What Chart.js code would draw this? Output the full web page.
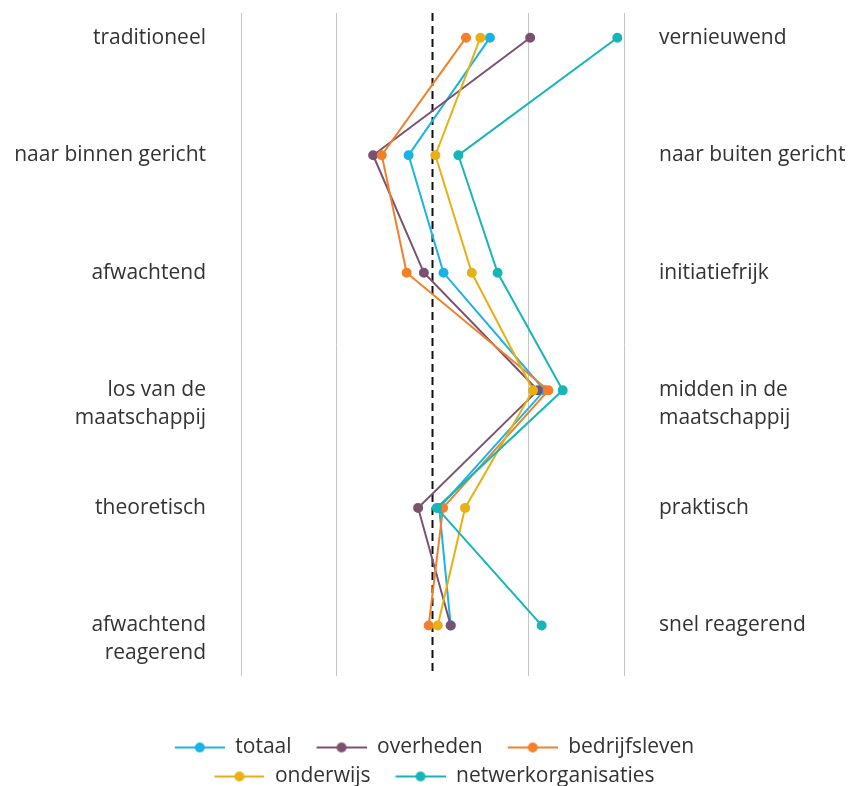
<!DOCTYPE html>
<html>
<head>
<meta charset="utf-8">
<script src="https://cdn.jsdelivr.net/npm/chart.js@4"></script>
<style>
  body { margin: 0; background: #fff; }
  #wrap { width: 852px; height: 786px; position: relative; }
</style>
</head>
<body>
<div id="wrap"><canvas id="profielChart"></canvas></div>
<script>
// labels links en rechts per rij
const leftLabels = ['traditioneel', 'naar binnen gericht', 'afwachtend', ['los van de', 'maatschappij'], 'theoretisch', ['afwachtend', 'reagerend']];
const rightLabels = ['vernieuwend', 'naar buiten gericht', 'initiatiefrijk', ['midden in de', 'maatschappij'], 'praktisch', 'snel reagerend'];
const rows = [0, 1, 2, 3, 4, 5];

// scores (-2 .. 2)
const totaal = [0.60, -0.25, 0.115, 1.17, 0.07, 0.19];
const overheden = [1.02, -0.62, -0.09, 1.10, -0.15, 0.19];
const bedrijfsleven = [0.35, -0.53, -0.27, 1.21, 0.11, -0.04];
const onderwijs = [0.50, 0.03, 0.41, 1.05, 0.34, 0.055];
const netwerkorganisaties = [1.93, 0.27, 0.68, 1.36, 0.045, 1.14];

const xTicks = [-2, -1, 0, 1, 2];

const FONT = '"Open Sans", sans-serif';
const TEXT_COLOR = '#333333';

function toPoints(values) {
    return values.map(function(v, i) { return { x: v, y: rows[i] }; });
}

// legenda-icoon: lijntje met bolletje
function legendIcon(color) {
    const c = document.createElement('canvas');
    c.width = 67;
    c.height = 12;
    const g = c.getContext('2d');
    g.strokeStyle = color;
    g.lineWidth = 2;
    g.beginPath();
    g.moveTo(17, 6);
    g.lineTo(67, 6);
    g.stroke();
    g.fillStyle = color;
    g.beginPath();
    g.arc(42, 6, 5, 0, Math.PI * 2);
    g.fill();
    return c;
}

function makeDataset(label, values, color, order) {
    return {
        label: label,
        data: toPoints(values),
        borderColor: color,
        backgroundColor: color,
        borderWidth: 2,
        pointRadius: 4,
        pointHoverRadius: 5,
        pointStyle: 'circle',
        showLine: true,
        order: order
    };
}

const labelPlugin = {
    id: 'sideLabels',
    afterInit: function(chart) {
        // legenda iets lager zetten
        const legend = chart.legend;
        if (legend) {
            const origFit = legend.fit;
            legend.fit = function() {
                origFit.call(this);
                this.height -= 11;
            };
        }
    },
    beforeDatasetsDraw: function(chart) {
        const ctx = chart.ctx;
        const area = chart.chartArea;
        const x0 = chart.scales.x.getPixelForValue(0);
        ctx.save();
        ctx.strokeStyle = '#111';
        ctx.lineWidth = 2;
        ctx.setLineDash([8, 5]);
        ctx.beginPath();
        ctx.moveTo(x0, area.top);
        ctx.lineTo(x0, area.bottom);
        ctx.stroke();
        ctx.restore();
    },
    afterDraw: function(chart) {
        const ctx = chart.ctx;
        const area = chart.chartArea;
        const yScale = chart.scales.y;
        ctx.save();
        ctx.font = '21px ' + FONT;
        ctx.fillStyle = TEXT_COLOR;
        ctx.textBaseline = 'middle';
        rows.forEach(function(r, i) {
            const y = yScale.getPixelForValue(r);
            [].concat(leftLabels[i]).forEach(function(line, j) {
                ctx.textAlign = 'right';
                ctx.fillText(line, area.left - 35, y + j * 28);
            });
            [].concat(rightLabels[i]).forEach(function(line, j) {
                ctx.textAlign = 'left';
                ctx.fillText(line, area.right + 35, y + j * 28);
            });
        });
        ctx.restore();
    }
};

const ctx = document.getElementById('profielChart').getContext('2d');
new Chart(ctx, {
    type: 'scatter',
    data: {
        datasets: [
            makeDataset('totaal', totaal, '#1ab3e6', 5),
            makeDataset('overheden', overheden, '#7a5270', 4),
            makeDataset('bedrijfsleven', bedrijfsleven, '#f2802a', 3),
            makeDataset('onderwijs', onderwijs, '#e8b014', 2),
            makeDataset('netwerkorganisaties', netwerkorganisaties, '#16b5b8', 1)
        ]
    },
    options: {
        responsive: true,
        maintainAspectRatio: false,
        animation: false,
        layout: {
            padding: { top: 13, left: 130, right: 130, bottom: 0 }
        },
        scales: {
            x: {
                type: 'linear',
                min: -2,
                max: 2,
                afterBuildTicks: function(axis) {
                    axis.ticks = xTicks.map(function(v) { return { value: v }; });
                },
                afterFit: function(axis) { axis.height = 53; },
                ticks: { display: false },
                border: { display: false },
                grid: {
                    drawTicks: false,
                    lineWidth: 1,
                    color: function(c) {
                        return c.tick && c.tick.value === 0 ? 'rgba(0,0,0,0)' : '#c6c6c6';
                    }
                }
            },
            y: {
                type: 'linear',
                position: 'left',
                reverse: true,
                min: -0.21,
                max: 5.43,
                ticks: { display: false },
                grid: { display: false },
                border: { display: false },
                afterFit: function(axis) { axis.width = 111; }
            },
            y2: {
                type: 'linear',
                position: 'right',
                reverse: true,
                min: -0.21,
                max: 5.43,
                ticks: { display: false },
                grid: { display: false },
                border: { display: false },
                afterFit: function(axis) { axis.width = 98; }
            }
        },
        plugins: {
            legend: {
                position: 'bottom',
                labels: {
                    usePointStyle: true,
                    pointStyleWidth: 67,
                    boxHeight: 12,
                    padding: 8,
                    color: TEXT_COLOR,
                    font: { family: FONT, size: 21 },
                    generateLabels: function(chart) {
                        return chart.data.datasets.map(function(ds, i) {
                            return {
                                text: ds.label,
                                fillStyle: ds.borderColor,
                                strokeStyle: ds.borderColor,
                                fontColor: TEXT_COLOR,
                                lineWidth: 0,
                                pointStyle: legendIcon(ds.borderColor),
                                hidden: !chart.isDatasetVisible(i),
                                datasetIndex: i
                            };
                        });
                    }
                }
            },
            tooltip: { enabled: true }
        }
    },
    plugins: [labelPlugin]
});
</script>
</body>
</html>
